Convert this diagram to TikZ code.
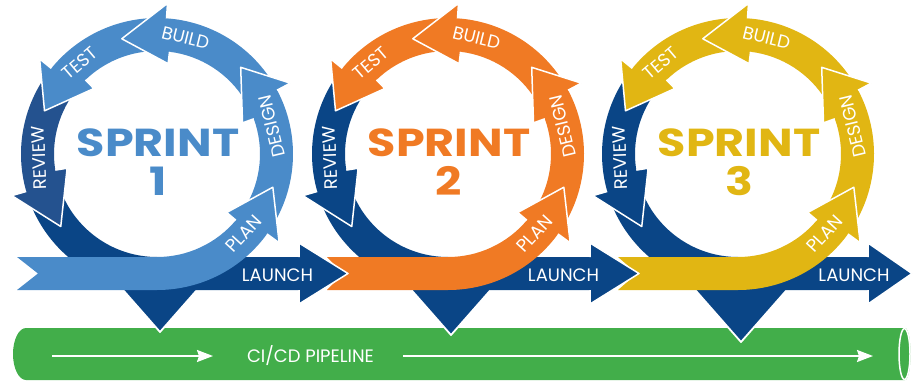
\documentclass[tikz,border=0pt]{standalone}
\usepackage{fontspec}
\usepackage{graphicx}
\setmainfont{Poppins}
\usetikzlibrary{arrows.meta}
\definecolor{sblue}{HTML}{4A8BC9}
\definecolor{navy}{HTML}{0A4586}
\definecolor{rblue}{HTML}{24528F}
\definecolor{sorange}{HTML}{F07A24}
\definecolor{syellow}{HTML}{E1B613}
\definecolor{pgreen}{HTML}{42AE4A}
\tikzset{
  headline/.style={draw=white, line width=1.5pt, line join=round},
  lbl/.style={text=white, font=\fontsize{18}{18}\selectfont, inner sep=0pt},
  big/.style={font=\fontsize{39}{39}\selectfont\bfseries, inner sep=0pt},
  pipe/.style={draw=white, line width=1.8pt, -{Stealth[length=16pt,width=12pt,inset=2pt]}}
}
% #1 colour, #2 tail angle, #3 inner base angle, #4 outer base angle, #5 tip angle
\newcommand\ringarrow[5]{%
  \fill[#1] (#2:103pt) arc[start angle=#2, end angle=#3, radius=103pt] -- (#3:91pt) -- (#5:120.5pt) -- (#4:151pt) -- (#4:136pt) arc[start angle=#4, end angle=#2, radius=136pt] -- cycle;
  \draw[headline] (#4:136pt) -- (#4:151pt) -- (#5:120.5pt) -- (#3:91pt) -- (#3:103pt);
}
% #1 number, #2 colour, #3 review colour, #4 tail x, #5 notch, #6 head base x, #7 tip x, #8 apex y, #9 launch label x
\newcommand\sprintunit[9]{%
  \pgfmathsetmacro\hw{(-103-(#8))*0.88}%
  \fill[navy] ({3-\hw},-103) -- (3,#8) -- ({3+\hw},-103) -- cycle;
  \draw[headline, line width=1.8pt] ({3-\hw},-103) -- (3,#8) -- ({3+\hw},-103);
  \fill[navy] (202:103pt) arc[start angle=202, end angle=270, radius=103pt] -- (#6,-103) -- (#6,-89) -- (#7,-119.5) -- (#6,-150) -- (#6,-136) -- (0,-136) arc[start angle=270, end angle=202, radius=136pt] -- cycle;
  \draw[headline] (#6,-103) -- (#6,-89) -- (#7,-119.5) -- (#6,-150) -- (#6,-136);
  \ringarrow{#3}{144}{189}{196}{217}
  \ringarrow{#2}{92}{134}{141}{159}
  \ringarrow{#2}{31}{83}{86}{107}
  \ringarrow{#2}{-31}{20}{28}{46}
  \fill[#2] (#4,-103) -- ({#4+#5},-119.5) -- (#4,-136) -- (0,-136) arc[start angle=270, end angle=324, radius=136pt] -- (324:151pt) -- (344:120.5pt) -- (320:91pt) -- (320:103pt) arc[start angle=320, end angle=270, radius=103pt] -- cycle;
  \draw[headline] (324:136pt) -- (324:151pt) -- (344:120.5pt) -- (320:91pt) -- (320:103pt);
  \node[lbl, rotate=-13.8] (build#1) at (76.2:119.5pt) {BUILD};
  \node[lbl, rotate=40.4] (test#1) at (130.4:119.5pt) {TEST};
  \node[lbl, rotate=92] (review#1) at (182:118pt) {REVIEW};
  \node[lbl, rotate=103.5] (design#1) at (13.5:118pt) {DESIGN};
  \node[lbl, rotate=47.4] (plan#1) at (-42.6:118pt) {PLAN};
  \node[lbl] (launch#1) at (#9,-121) {LAUNCH};
  \node[big, text=#2] (sprint#1) at (1,11) {\scalebox{1.18}[1]{SPRINT}};
  \node[big, text=#2] (num#1) at (1,-27) {\scalebox{1.18}[1]{#1}};
}
\begin{document}
\begin{tikzpicture}[x=1pt, y=1pt]
\useasboundingbox (0,0) rectangle (918,381);
% pipeline
\fill[pgreen] (905,53) -- (26,53) arc[start angle=90, end angle=270, x radius=13pt, y radius=26pt] -- (905,1) arc[start angle=-90, end angle=90, x radius=5.5pt, y radius=26pt] -- cycle;
\draw[white, line width=1.5pt] (904.5,27) ellipse[x radius=5.5pt, y radius=25.5pt];
\coordinate (a1s) at (52,25);
\coordinate (a1e) at (213,25);
\coordinate (a2s) at (403,25);
\coordinate (a2e) at (873,25);
\draw[pipe] (a1s) -- (a1e);
\draw[pipe] (a2s) -- (a2e);
\node[lbl] (cicd) at (310.5,25) {CI/CD PIPELINE};
% sprints (drawn right to left so each LAUNCH head lies over the next tail)
\begin{scope}[shift={(738,227)}]
  \sprintunit{3}{syellow}{navy}{-120}{19}{130}{174}{-188}{116}
\end{scope}
\begin{scope}[shift={(448,227)}]
  \sprintunit{2}{sorange}{navy}{-121}{16}{142}{191}{-181}{115.5}
\end{scope}
\begin{scope}[shift={(157,227)}]
  \sprintunit{1}{sblue}{rblue}{-140}{21}{142}{191}{-178}{120.5}
\end{scope}
\end{tikzpicture}
\end{document}
